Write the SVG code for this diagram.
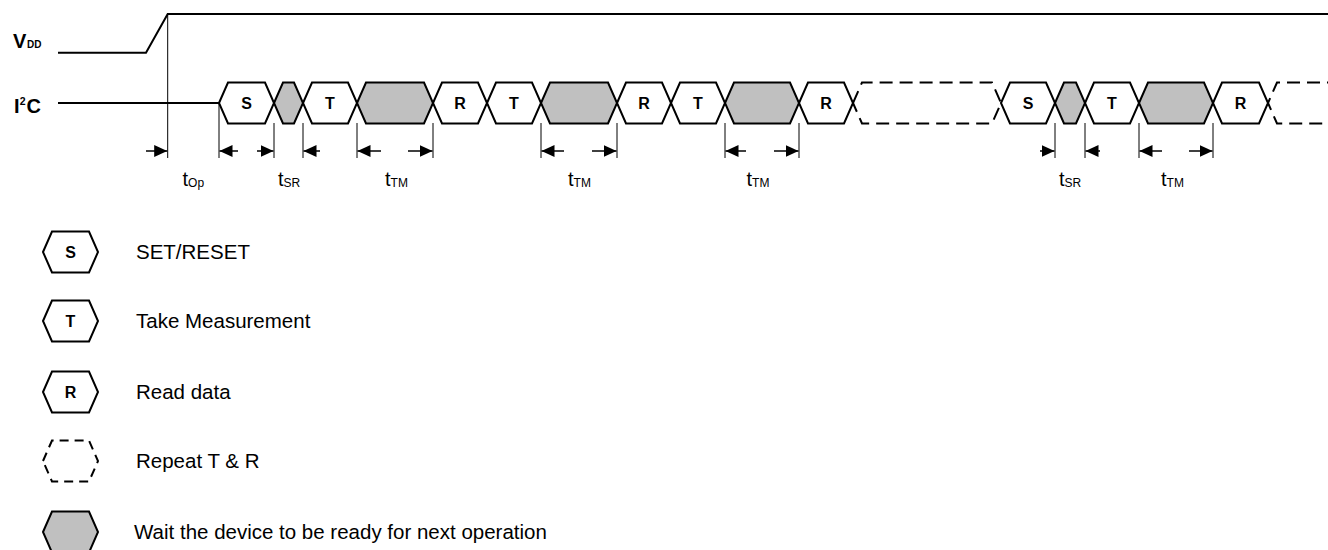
<svg xmlns="http://www.w3.org/2000/svg" width="1328" height="550" viewBox="0 0 1328 550">
<defs>
<marker id="ah" markerUnits="userSpaceOnUse" markerWidth="14" markerHeight="13" refX="13" refY="6.5" orient="auto"><path d="M0,0.5 L13,6.5 L0,12.5 z" fill="#000"/></marker>
</defs>
<style>
.sig{fill:none;stroke:#000;stroke-width:2}
.hx{fill:#fff;stroke:#000;stroke-width:2;stroke-linejoin:miter}
.gy{fill:#c0c0c0;stroke:#000;stroke-width:2}
.ds{fill:#fff;stroke:#000;stroke-width:2;stroke-dasharray:13 7}
.dsl{fill:#fff;stroke:#000;stroke-width:2;stroke-dasharray:9 6}
.vl{stroke:#000;stroke-width:1;fill:none}
.ar{stroke:#000;stroke-width:1.5;fill:none;marker-end:url(#ah)}
.hl{font-family:"Liberation Sans",Arial,sans-serif;font-weight:bold;font-size:16px;text-anchor:middle}
.lb{font-family:"Liberation Sans",Arial,sans-serif;font-size:20.5px}
.tl{font-family:"Liberation Sans",Arial,sans-serif;font-size:20px}
.sb{font-size:12px}
.bl{font-family:"Liberation Sans",Arial,sans-serif;font-weight:bold}
</style>
<rect width="1328" height="550" fill="#fff"/>

<g id="signals">
<polyline class="sig" points="58,52.7 146,52.7 167.7,14 1330,14"/>
<line class="sig" x1="58" y1="103" x2="219" y2="103"/>
<text class="bl" x="13" y="48" font-size="20">V</text>
<text class="bl" x="27" y="48" font-size="10">DD</text>
<text class="bl" x="14" y="113" font-size="20">I</text>
<text class="bl" x="19.8" y="105" font-size="10.5">2</text>
<text class="bl" x="26.5" y="113" font-size="20">C</text>
</g>

<g id="n-s1"><polygon class="hx" points="219,103 228,82.5 265,82.5 274,103 265,123.5 228,123.5"/><text class="hl" x="246.5" y="109">S</text></g>
<g id="n-w1"><polygon class="gy" points="274,103 283,82.5 294,82.5 303,103 294,123.5 283,123.5"/></g>
<g id="n-t1"><polygon class="hx" points="303,103 312,82.5 348,82.5 357,103 348,123.5 312,123.5"/><text class="hl" x="330" y="109">T</text></g>
<g id="n-w2"><polygon class="gy" points="357,103 366,82.5 424,82.5 433,103 424,123.5 366,123.5"/></g>
<g id="n-r1"><polygon class="hx" points="433,103 442,82.5 478,82.5 487,103 478,123.5 442,123.5"/><text class="hl" x="460" y="109">R</text></g>
<g id="n-t2"><polygon class="hx" points="487,103 496,82.5 532,82.5 541,103 532,123.5 496,123.5"/><text class="hl" x="514" y="109">T</text></g>
<g id="n-w3"><polygon class="gy" points="541,103 550,82.5 608,82.5 617,103 608,123.5 550,123.5"/></g>
<g id="n-r2"><polygon class="hx" points="617,103 626,82.5 662,82.5 671,103 662,123.5 626,123.5"/><text class="hl" x="644" y="109">R</text></g>
<g id="n-t3"><polygon class="hx" points="671,103 680,82.5 716,82.5 725,103 716,123.5 680,123.5"/><text class="hl" x="698" y="109">T</text></g>
<g id="n-w4"><polygon class="gy" points="725,103 734,82.5 790,82.5 799,103 790,123.5 734,123.5"/></g>
<g id="n-r3"><polygon class="hx" points="799,103 808,82.5 844,82.5 853,103 844,123.5 808,123.5"/><text class="hl" x="826" y="109">R</text></g>
<g id="n-rep1"><polygon class="ds" points="853,103 862,82.5 992,82.5 1001,103 992,123.5 862,123.5"/></g>
<g id="n-s2"><polygon class="hx" points="1001,103 1010,82.5 1046,82.5 1055,103 1046,123.5 1010,123.5"/><text class="hl" x="1028" y="109">S</text></g>
<g id="n-w5"><polygon class="gy" points="1055,103 1064,82.5 1076,82.5 1085,103 1076,123.5 1064,123.5"/></g>
<g id="n-t4"><polygon class="hx" points="1085,103 1094,82.5 1130,82.5 1139,103 1130,123.5 1094,123.5"/><text class="hl" x="1112" y="109">T</text></g>
<g id="n-w6"><polygon class="gy" points="1139,103 1148,82.5 1204,82.5 1213,103 1204,123.5 1148,123.5"/></g>
<g id="n-r4"><polygon class="hx" points="1213,103 1222,82.5 1259,82.5 1268,103 1259,123.5 1222,123.5"/><text class="hl" x="1240.5" y="109">R</text></g>
<g id="n-rep2"><path class="ds" d="M1340,82.5 L1277,82.5 L1268,103 L1277,123.5 L1340,123.5"/></g>

<g id="connectors">
<line class="vl" x1="167.7" y1="14" x2="167.7" y2="158"/>
<line class="vl" x1="219" y1="103" x2="219" y2="158"/>
<line class="vl" x1="274" y1="123" x2="274" y2="158"/>
<line class="vl" x1="303" y1="123" x2="303" y2="158"/>
<line class="vl" x1="357" y1="123" x2="357" y2="158"/>
<line class="vl" x1="433" y1="123" x2="433" y2="158"/>
<line class="vl" x1="541" y1="123" x2="541" y2="158"/>
<line class="vl" x1="617" y1="123" x2="617" y2="158"/>
<line class="vl" x1="725" y1="123" x2="725" y2="158"/>
<line class="vl" x1="799" y1="123" x2="799" y2="158"/>
<line class="vl" x1="1055" y1="123" x2="1055" y2="158"/>
<line class="vl" x1="1085" y1="123" x2="1085" y2="158"/>
<line class="vl" x1="1139" y1="123" x2="1139" y2="158"/>
<line class="vl" x1="1213" y1="123" x2="1213" y2="158"/>

<line class="ar" x1="146" y1="151" x2="167.2" y2="151"/>
<line class="ar" x1="238" y1="151" x2="219.5" y2="151"/>
<line class="ar" x1="257" y1="151" x2="273.5" y2="151"/>
<line class="ar" x1="320" y1="151" x2="303.5" y2="151"/>
<line class="ar" x1="381" y1="151" x2="357.5" y2="151"/>
<line class="ar" x1="408" y1="151" x2="432.5" y2="151"/>
<line class="ar" x1="564" y1="151" x2="541.5" y2="151"/>
<line class="ar" x1="592" y1="151" x2="616.5" y2="151"/>
<line class="ar" x1="746" y1="151" x2="725.5" y2="151"/>
<line class="ar" x1="774" y1="151" x2="798.5" y2="151"/>
<line class="ar" x1="1040" y1="151" x2="1054.5" y2="151"/>
<line class="ar" x1="1100" y1="151" x2="1085.5" y2="151"/>
<line class="ar" x1="1162" y1="151" x2="1139.5" y2="151"/>
<line class="ar" x1="1189" y1="151" x2="1212.5" y2="151"/>

<text class="tl" x="182.5" y="186">t<tspan class="sb" dy="1">Op</tspan></text>
<text class="tl" x="278" y="186">t<tspan class="sb" dy="1">SR</tspan></text>
<text class="tl" x="385" y="186">t<tspan class="sb" dy="1">TM</tspan></text>
<text class="tl" x="568" y="186">t<tspan class="sb" dy="1">TM</tspan></text>
<text class="tl" x="746.5" y="186">t<tspan class="sb" dy="1">TM</tspan></text>
<text class="tl" x="1059" y="186">t<tspan class="sb" dy="1">SR</tspan></text>
<text class="tl" x="1161" y="186">t<tspan class="sb" dy="1">TM</tspan></text>
</g>

<g id="legend-s"><polygon class="hx" points="43,252 52,231.5 89,231.5 98,252 89,272.5 52,272.5"/><text class="hl" x="70.5" y="258">S</text><text class="lb" x="136" y="259">SET/RESET</text></g>
<g id="legend-t"><polygon class="hx" points="43,321 52,300.5 89,300.5 98,321 89,341.5 52,341.5"/><text class="hl" x="70.5" y="327">T</text><text class="lb" x="136" y="328">Take Measurement</text></g>
<g id="legend-r"><polygon class="hx" points="43,392 52,371.5 89,371.5 98,392 89,412.5 52,412.5"/><text class="hl" x="70.5" y="398">R</text><text class="lb" x="136" y="399">Read data</text></g>
<g id="legend-rep"><polygon class="dsl" points="43,461 52,440.5 89,440.5 98,461 89,481.5 52,481.5"/><text class="lb" x="136" y="468">Repeat T &amp; R</text></g>
<g id="legend-wait"><polygon class="gy" points="43,532 52,511.5 89,511.5 98,532 89,552.5 52,552.5"/><text class="lb" x="134" y="539">Wait the device to be ready for next operation</text></g>
</svg>
